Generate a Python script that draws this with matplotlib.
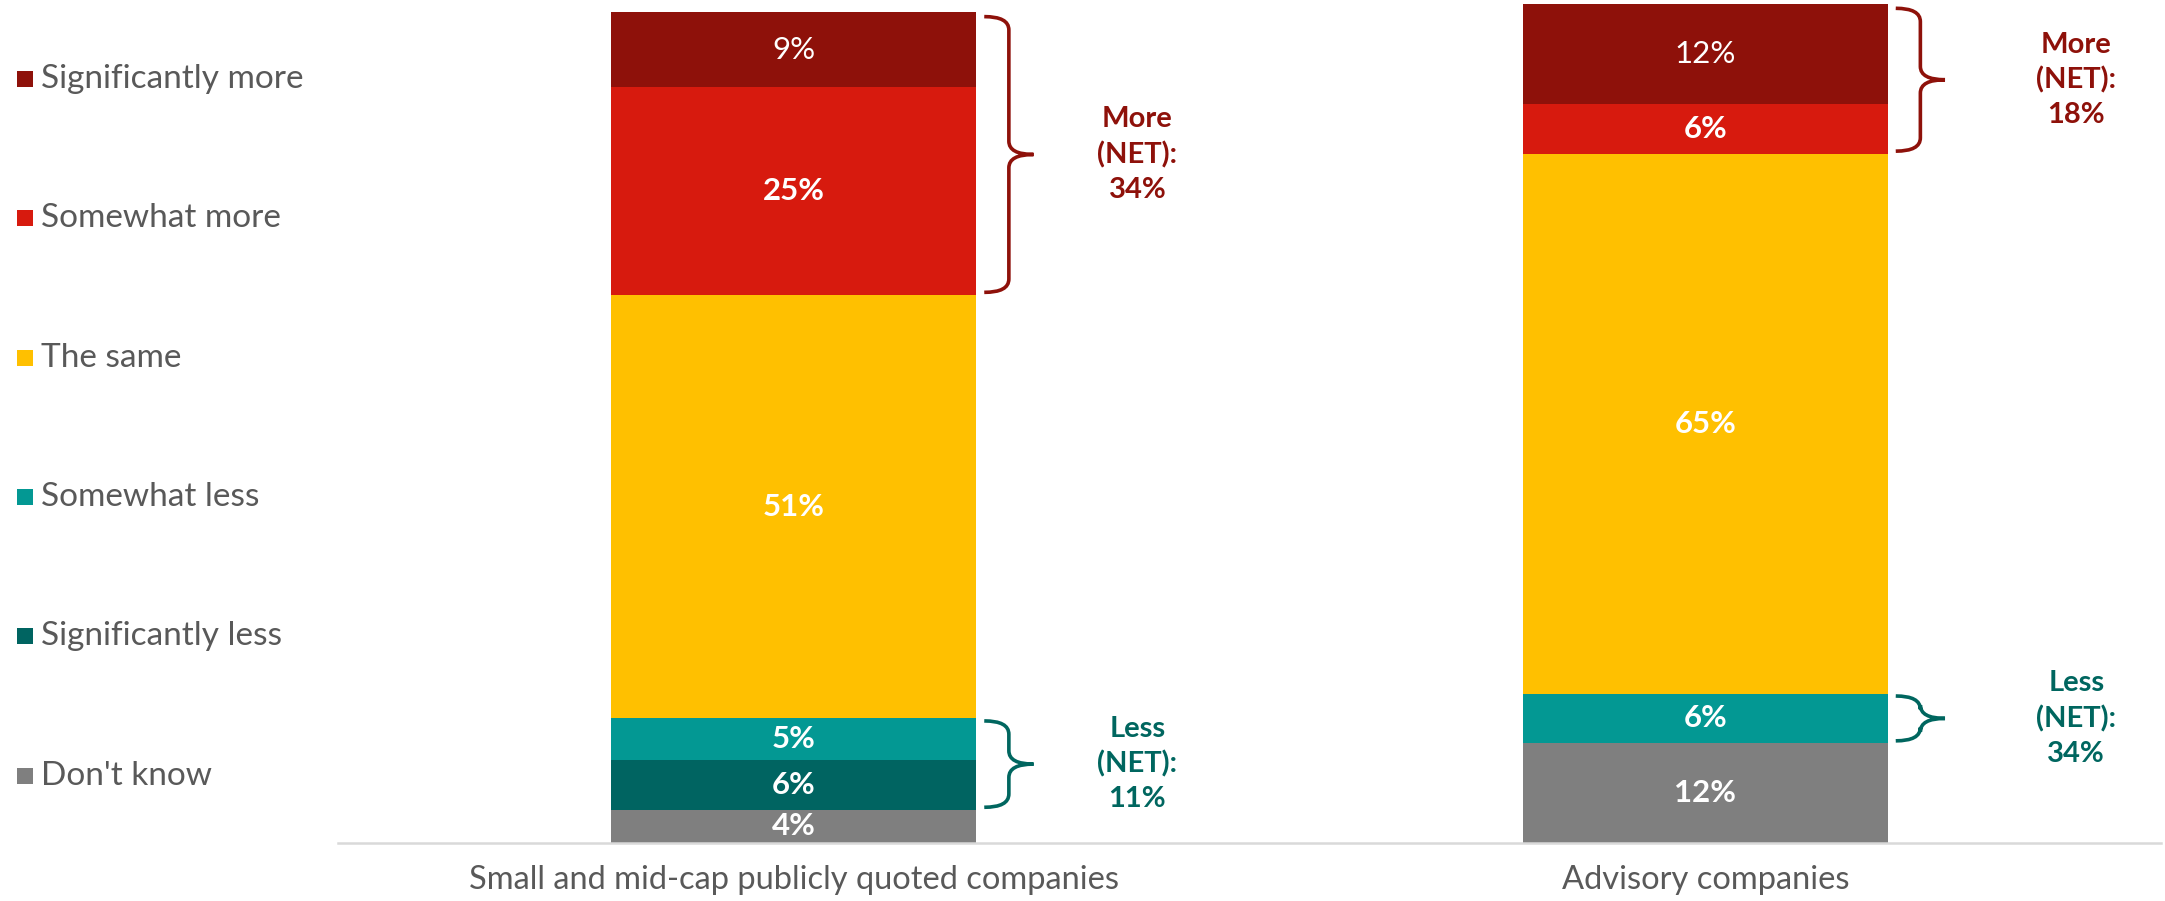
import matplotlib
matplotlib.use("Agg")
import matplotlib.pyplot as plt
from matplotlib.path import Path
from matplotlib.patches import PathPatch, Rectangle

plt.rcParams["font.family"] = ["Lato", "DejaVu Sans"]

categories = ["Small and mid-cap publicly quoted companies", "Advisory companies"]
responses = ["Don't know", "Significantly less", "Somewhat less",
             "The same", "Somewhat more", "Significantly more"]
# values per response, one entry per category (bottom to top of the stack)
dont_know = [4, 12]
sig_less = [6, 0]
some_less = [5, 6]
same = [51, 65]
some_more = [25, 6]
sig_more = [9, 12]
series = [dont_know, sig_less, some_less, same, some_more, sig_more]

colors = ["#7F7F7F", "#006461", "#039893", "#FFC000", "#D71A0E", "#8E110A"]
bold_labels = [True, True, True, True, True, False]

more_net = ["More\n(NET):\n34%", "More\n(NET):\n18%"]
less_net = ["Less\n(NET):\n11%", "Less\n(NET):\n34%"]
more_color = "#8E110A"
less_color = "#00665F"
text_grey = "#595959"

W, H = 2165, 901
fig = plt.figure(figsize=(W / 100, H / 100), dpi=100)
ax = fig.add_axes([338 / W, 58 / H, (2161 - 338) / W, 843 / H])
ax.set_xlim(-0.5, 1.5)
ax.set_ylim(0, 101.5)

bar_w = 0.4
bottoms = [0.0, 0.0]
for vals, col, bold in zip(series, colors, bold_labels):
    ax.bar([0, 1], vals, bar_w, bottom=bottoms, color=col, linewidth=0)
    for i, (v, b) in enumerate(zip(vals, bottoms)):
        if v > 0:
            ax.text(i, b + v / 2, f"{v}%", ha="center", va="center",
                    color="white", fontsize=22.5,
                    fontweight="bold" if bold else "normal")
    bottoms = [b + v for b, v in zip(bottoms, vals)]


def brace(ax, xc, y0, y1, color):
    # right-facing curly brace spanning y0..y1 next to a bar whose right edge is xc
    xs, xv, xt = xc + 0.009, xc + 0.036, xc + 0.063
    r = 1.6
    ym = (y0 + y1) / 2
    verts = [(xs, y1), (xv, y1), (xv, y1 - r),
             (xv, ym + r), (xv, ym), (xt, ym),
             (xv, ym), (xv, ym - r),
             (xv, y0 + r), (xv, y0), (xs, y0)]
    codes = [Path.MOVETO, Path.CURVE3, Path.CURVE3,
             Path.LINETO, Path.CURVE3, Path.CURVE3,
             Path.CURVE3, Path.CURVE3,
             Path.LINETO, Path.CURVE3, Path.CURVE3]
    ax.add_patch(PathPatch(Path(verts, codes), fill=False, edgecolor=color,
                           linewidth=2.6, clip_on=False))
    return ym


net_x = [0.377, 1.407]
for i in range(2):
    less_lo = dont_know[i]
    less_hi = dont_know[i] + sig_less[i] + some_less[i]
    more_lo = less_hi + same[i]
    more_hi = more_lo + some_more[i] + sig_more[i]
    ym = brace(ax, i + bar_w / 2, more_lo + 0.3, more_hi - 0.5, more_color)
    ax.text(net_x[i], ym, more_net[i], ha="center", va="center",
            color=more_color, fontsize=21, fontweight="bold", linespacing=1.4)
    ym = brace(ax, i + bar_w / 2, less_lo + 0.3, less_hi - 0.3, less_color)
    ax.text(net_x[i], ym, less_net[i], ha="center", va="center",
            color=less_color, fontsize=21, fontweight="bold", linespacing=1.4)

for side in ["top", "right", "left"]:
    ax.spines[side].set_visible(False)
ax.spines["bottom"].set_color("#D9D9D9")
ax.spines["bottom"].set_linewidth(1.8)
ax.set_yticks([])
ax.set_xticks([0, 1])
ax.set_xticklabels(categories, fontsize=23.5, color=text_grey)
ax.tick_params(axis="x", length=0, pad=16)

# legend on the left, top row = top of the stack
row_y = [79, 218, 358, 497, 636, 776]
for k, (lab, col) in enumerate(zip(responses[::-1], colors[::-1])):
    y = row_y[k]
    fig.add_artist(Rectangle((17 / W, 1 - (y + 8) / H), 16 / W, 16 / H,
                             transform=fig.transFigure, color=col, linewidth=0))
    fig.text(41 / W, 1 - y / H, lab, ha="left", va="center",
             fontsize=24, color=text_grey)

fig.savefig("out.png", dpi=100)
